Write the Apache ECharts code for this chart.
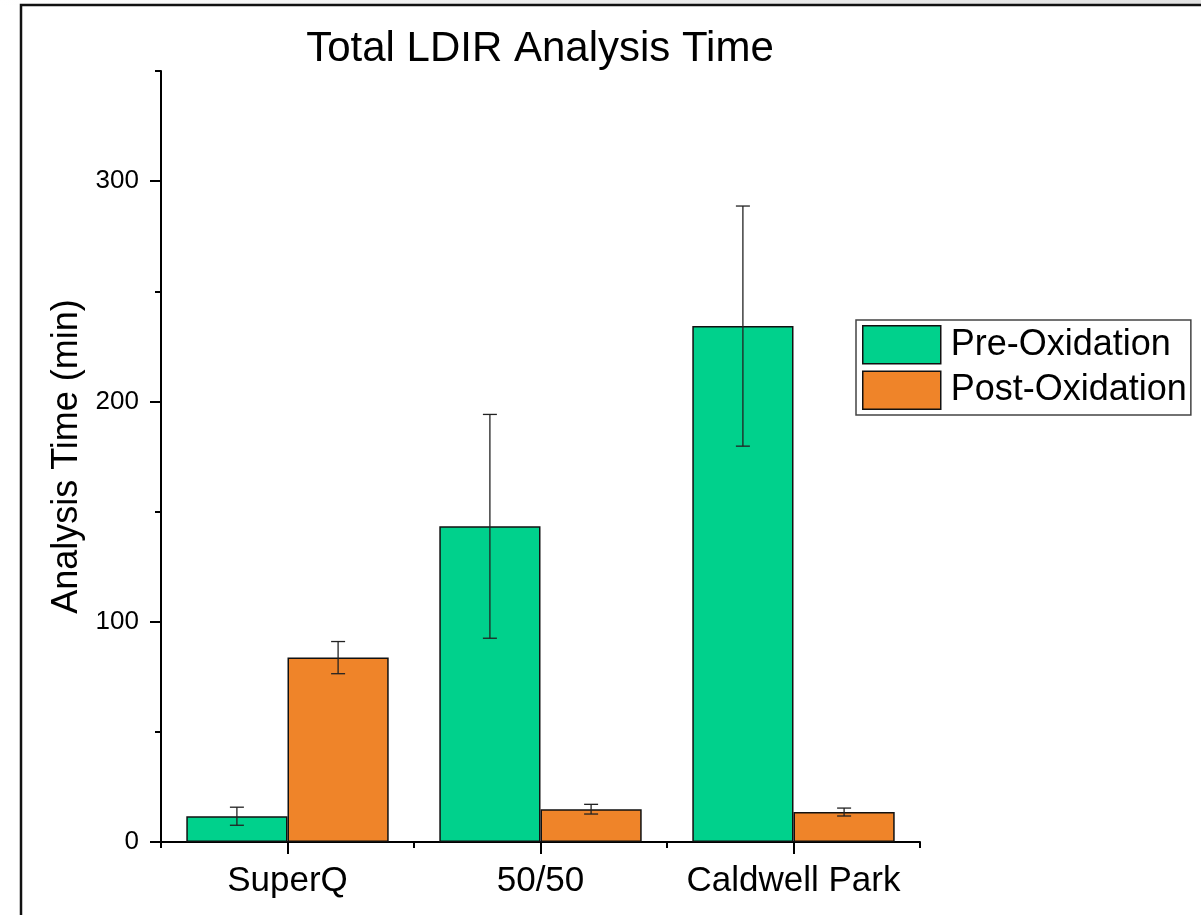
<!DOCTYPE html>
<html>
<head>
<meta charset="utf-8">
<script src="https://cdn.jsdelivr.net/npm/echarts@6/dist/echarts.min.js"></script>
<style>
html, body { margin: 0; padding: 0; background: #ffffff; }
#chart { width: 1201px; height: 915px; }
</style>
</head>
<body>
<div id="chart"></div>
<script>
// ---- data ----
const categories = ['SuperQ', '50/50', 'Caldwell Park'];
const preOxidation = [11.7, 143.3, 234.2];
const preOxidationErr = [4.1, 50.8, 54.5];
const postOxidation = [83.7, 14.9, 13.6];
const postOxidationErr = [7.3, 2.2, 1.8];
const yMajorTicks = [0, 100, 200, 300];
const yMinorTicks = [50, 150, 250, 350];
const seriesNames = ['Pre-Oxidation', 'Post-Oxidation'];
const titleText = 'Total LDIR Analysis Time';
const yAxisTitle = 'Analysis Time (min)';

const FONT = '"Liberation Sans", Arial, sans-serif';
const GREEN = '#00D18C';
const ORANGE = '#EF8429';

function errRender(side) {
  return function (params, api) {
    const i = api.value(0), v = api.value(1), e = api.value(2);
    const bw = api.size([1, 0])[0];
    const base = api.coord([i, v]);
    const x = base[0] + side * bw * 0.2;
    const yTop = api.coord([i, v + e])[1];
    const yBot = api.coord([i, v - e])[1];
    const cap = 7;
    const st = { stroke: '#222222', lineWidth: 1.3 };
    return {
      type: 'group',
      children: [
        { type: 'line', shape: { x1: x, y1: yTop, x2: x, y2: yBot }, style: st },
        { type: 'line', shape: { x1: x - cap, y1: yTop, x2: x + cap, y2: yTop }, style: st },
        { type: 'line', shape: { x1: x - cap, y1: yBot, x2: x + cap, y2: yBot }, style: st }
      ]
    };
  };
}

const chart = echarts.init(document.getElementById('chart'), null, { renderer: 'canvas' });

const axisLineStyle = { color: '#000000', width: 2 };

chart.setOption({
  backgroundColor: '#ffffff',
  animation: false,
  title: {
    text: titleText,
    left: 540, top: 28, textAlign: 'center', padding: 0,
    textStyle: { fontFamily: FONT, fontSize: 42, fontWeight: 'normal', color: '#000000' }
  },
  graphic: [
    {
      type: 'rect', left: 0, top: 0, z: -10, silent: true,
      shape: { x: 0, y: 0, width: 1201, height: 5 },
      style: { fill: new echarts.graphic.LinearGradient(0, 0, 1, 0, [
        { offset: 0, color: '#ffffff' }, { offset: 0.4, color: '#eeeeee' }, { offset: 1, color: '#e2e2e2' }
      ]) }
    },
    {
      type: 'rect', silent: true, z: 100,
      shape: { x: 21, y: 5, width: 1400, height: 1200 },
      style: { fill: 'none', stroke: '#111111', lineWidth: 2.5 }
    }
  ],
  grid: { left: 161, right: 281, top: 71, bottom: 73, containLabel: false },
  legend: {
    orient: 'vertical',
    left: 856, top: 320,
    padding: [5, 4, 5, 6],
    itemWidth: 78, itemHeight: 38, itemGap: 6,
    backgroundColor: '#ffffff',
    borderColor: '#444444', borderWidth: 1.5, borderRadius: 0,
    icon: 'rect',
    itemStyle: { borderColor: '#111111', borderWidth: 1.5 },
    textStyle: { fontFamily: FONT, fontSize: 36, color: '#000000', padding: [0, 0, 0, 5] },
    data: seriesNames
  },
  xAxis: [
    {
      type: 'category', data: categories, position: 'bottom',
      axisLine: { show: true, lineStyle: axisLineStyle },
      axisTick: { show: true, alignWithLabel: true, length: 12, lineStyle: axisLineStyle },
      axisLabel: { fontFamily: FONT, fontSize: 35, color: '#000000', margin: 22, interval: 0 },
      splitLine: { show: false }
    },
    {
      type: 'category', data: categories, position: 'bottom',
      axisLine: { show: false },
      axisTick: { show: true, length: 6, lineStyle: axisLineStyle },
      axisLabel: { show: false },
      splitLine: { show: false }
    }
  ],
  yAxis: [
    {
      type: 'value', min: 0, max: 350, interval: 50, position: 'left',
      name: yAxisTitle, nameLocation: 'middle', nameGap: 74, nameRotate: 90,
      nameTextStyle: { fontFamily: FONT, fontSize: 36, color: '#000000' },
      axisLine: { show: true, lineStyle: axisLineStyle },
      axisTick: { show: true, length: 11, lineStyle: axisLineStyle, customValues: yMajorTicks },
      axisLabel: { fontFamily: FONT, fontSize: 26, color: '#000000', margin: 22, customValues: yMajorTicks },
      splitLine: { show: false }
    },
    {
      type: 'value', min: 0, max: 350, interval: 50, position: 'left',
      axisLine: { show: false },
      axisTick: { show: true, length: 6, lineStyle: axisLineStyle, customValues: yMinorTicks },
      axisLabel: { show: false },
      splitLine: { show: false }
    }
  ],
  series: [
    {
      name: seriesNames[0], type: 'bar', xAxisIndex: 0, yAxisIndex: 0,
      data: preOxidation, barGap: '0%', barCategoryGap: '20%',
      itemStyle: { color: GREEN, borderColor: '#111111', borderWidth: 1.5 }
    },
    {
      name: seriesNames[1], type: 'bar', xAxisIndex: 0, yAxisIndex: 0,
      data: postOxidation, barGap: '0%', barCategoryGap: '20%',
      itemStyle: { color: ORANGE, borderColor: '#111111', borderWidth: 1.5 }
    },
    {
      type: 'custom', name: 'preErr', xAxisIndex: 0, yAxisIndex: 0, z: 10,
      renderItem: errRender(-1),
      data: categories.map((c, i) => [i, preOxidation[i], preOxidationErr[i]])
    },
    {
      type: 'custom', name: 'postErr', xAxisIndex: 0, yAxisIndex: 0, z: 10,
      renderItem: errRender(1),
      data: categories.map((c, i) => [i, postOxidation[i], postOxidationErr[i]])
    }
  ]
});
</script>
</body>
</html>
